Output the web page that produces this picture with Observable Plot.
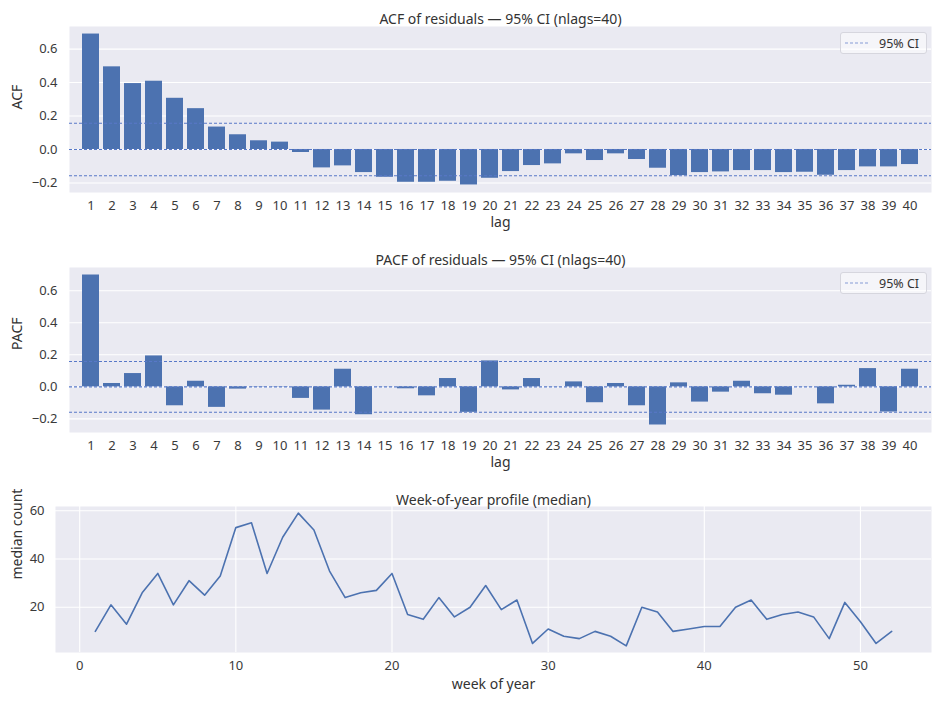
<!DOCTYPE html>
<html>
<head>
<meta charset="utf-8">
<script src="https://cdn.jsdelivr.net/npm/d3@7"></script>
<script src="https://cdn.jsdelivr.net/npm/@observablehq/plot@0.6"></script>
<style>
  html, body { margin: 0; padding: 0; background: #ffffff; }
  #wrap { position: relative; width: 932px; height: 717px; font-family: "Noto Sans", "DejaVu Sans", sans-serif; }
  #wrap svg { display: block; }
  .legend { position: absolute; width: 87px; height: 22px; box-sizing: border-box;
    border: 1px solid #d6d6de; border-radius: 3px; background: rgba(255,255,255,0.5);
    display: flex; align-items: center; font-size: 12.5px; color: #333; }
  .legend svg { margin-left: 4px; margin-right: 10px; }
</style>
</head>
<body>
<div id="wrap"></div>
<script>
// ---- data ----
const lags = [1,2,3,4,5,6,7,8,9,10,11,12,13,14,15,16,17,18,19,20,21,22,23,24,25,26,27,28,29,30,31,32,33,34,35,36,37,38,39,40];
const acfValues = [0.69,0.494,0.394,0.408,0.306,0.244,0.134,0.088,0.052,0.044,-0.018,-0.11,-0.098,-0.138,-0.166,-0.196,-0.196,-0.19,-0.212,-0.172,-0.132,-0.096,-0.086,-0.026,-0.066,-0.026,-0.06,-0.112,-0.156,-0.138,-0.134,-0.126,-0.126,-0.138,-0.136,-0.154,-0.126,-0.104,-0.104,-0.09];
const pacfValues = [0.698,0.021,0.083,0.193,-0.118,0.035,-0.128,-0.014,0.002,-0.002,-0.072,-0.145,0.11,-0.174,0.001,-0.012,-0.056,0.052,-0.159,0.162,-0.019,0.052,0.001,0.031,-0.099,0.021,-0.118,-0.238,0.025,-0.095,-0.033,0.035,-0.043,-0.052,0.001,-0.106,0.01,0.114,-0.157,0.11];
const acfCI = 0.157;
const pacfCI = 0.158;
const weeks = [1,2,3,4,5,6,7,8,9,10,11,12,13,14,15,16,17,18,19,20,21,22,23,24,25,26,27,28,29,30,31,32,33,34,35,36,37,38,39,40,41,42,43,44,45,46,47,48,49,50,51,52];
const weekMedian = [10,21,13,26,34,21,31,25,33,53,55,34,49,59,52,35,24,26,27,34,17,15,24,16,20,29,19,23,5,11,8,7,10,8,4,20,18,10,11,12,12,20,23,15,17,18,16,7,22,14,5,10];
const corrTicks = [-0.2, 0.0, 0.2, 0.4, 0.6];
const weekTicksX = [0, 10, 20, 30, 40, 50];
const weekTicksY = [20, 40, 60];

// ---- style ----
const BG = "#EAEAF2";
const BAR = "#4C72B0";
const CI_COLOR = "#5878c8";
const TEXT = "#3a3a3a";
const FONT = '"Noto Sans", "DejaVu Sans", sans-serif';

function padDomain(vals) {
  const [lo, hi] = d3.extent(vals);
  const m = (hi - lo) * 0.05;
  return [lo - m, hi + m];
}

const wrap = document.getElementById("wrap");

function corrPanel(values, ci, title, ylabel, height, mTop, mBottom) {
  const data = lags.map((l, i) => ({lag: l, v: values[i]}));
  return Plot.plot({
    width: 932,
    height,
    marginTop: mTop,
    marginBottom: mBottom,
    marginLeft: 69,
    marginRight: 1,
    style: {fontFamily: FONT, fontSize: "13px", color: TEXT, background: "white"},
    x: {type: "band", domain: lags, paddingInner: 0.2, paddingOuter: 0.1, tickSize: 0, tickPadding: 8, label: null},
    y: {domain: padDomain(values), ticks: corrTicks, tickFormat: d3.format(".1f"), tickSize: 0, tickPadding: 12, label: null},
    marks: [
      Plot.frame({fill: BG, stroke: null}),
      Plot.gridY(corrTicks, {stroke: "white", strokeOpacity: 1, strokeWidth: 1.1}),
      Plot.barY(data, {x: "lag", y: "v", fill: BAR}),
      Plot.ruleY([-ci, 0, ci], {stroke: CI_COLOR, strokeWidth: 1.1, strokeDasharray: "3,2"}),
      Plot.text([title], {frameAnchor: "top", dy: -12, fontSize: 14, fill: "#333"}),
      Plot.text(["lag"], {frameAnchor: "bottom", dy: 34, fontSize: 14, fill: "#333"}),
      Plot.text([ylabel], {frameAnchor: "left", rotate: -90, dx: -52, fontSize: 14, fill: "#333"})
    ]
  });
}

const p1 = corrPanel(acfValues, acfCI, "ACF of residuals \u2014 95% CI (nlags=40)", "ACF", 240, 26, 48);
const p2 = corrPanel(pacfValues, pacfCI, "PACF of residuals \u2014 95% CI (nlags=40)", "PACF", 240, 27, 48);

const weekData = weeks.map((w, i) => ({week: w, m: weekMedian[i]}));
const p3 = Plot.plot({
  width: 932,
  height: 237,
  marginTop: 26,
  marginBottom: 65,
  marginLeft: 55,
  marginRight: 1,
  style: {fontFamily: FONT, fontSize: "13px", color: TEXT, background: "white"},
  x: {domain: padDomain(weeks), ticks: weekTicksX, tickSize: 0, tickPadding: 8, label: null},
  y: {domain: padDomain(weekMedian), ticks: weekTicksY, tickSize: 0, tickPadding: 11, label: null},
  marks: [
    Plot.frame({fill: BG, stroke: null}),
    Plot.gridX(weekTicksX, {stroke: "white", strokeOpacity: 1, strokeWidth: 1.1}),
    Plot.gridY(weekTicksY, {stroke: "white", strokeOpacity: 1, strokeWidth: 1.1}),
    Plot.line(weekData, {x: "week", y: "m", stroke: BAR, strokeWidth: 1.6}),
    Plot.text(["Week-of-year profile (median)"], {frameAnchor: "top", dy: -11, fontSize: 14, fill: "#333"}),
    Plot.text(["week of year"], {frameAnchor: "bottom", dy: 36, fontSize: 14, fill: "#333"}),
    Plot.text(["median count"], {frameAnchor: "left", rotate: -90, dx: -38, fontSize: 14, fill: "#333"})
  ]
});

wrap.append(p1, p2, p3);

function addLegend(top) {
  const d = document.createElement("div");
  d.className = "legend";
  d.style.left = "840px";
  d.style.top = top + "px";
  d.innerHTML = '<svg width="24" height="4"><line x1="0" y1="2" x2="24" y2="2" stroke="' + CI_COLOR + '" stroke-opacity="0.7" stroke-width="1.1" stroke-dasharray="3,2"/></svg><span>95% CI</span>';
  wrap.appendChild(d);
}
addLegend(32);
addLegend(272);
</script>
</body>
</html>
